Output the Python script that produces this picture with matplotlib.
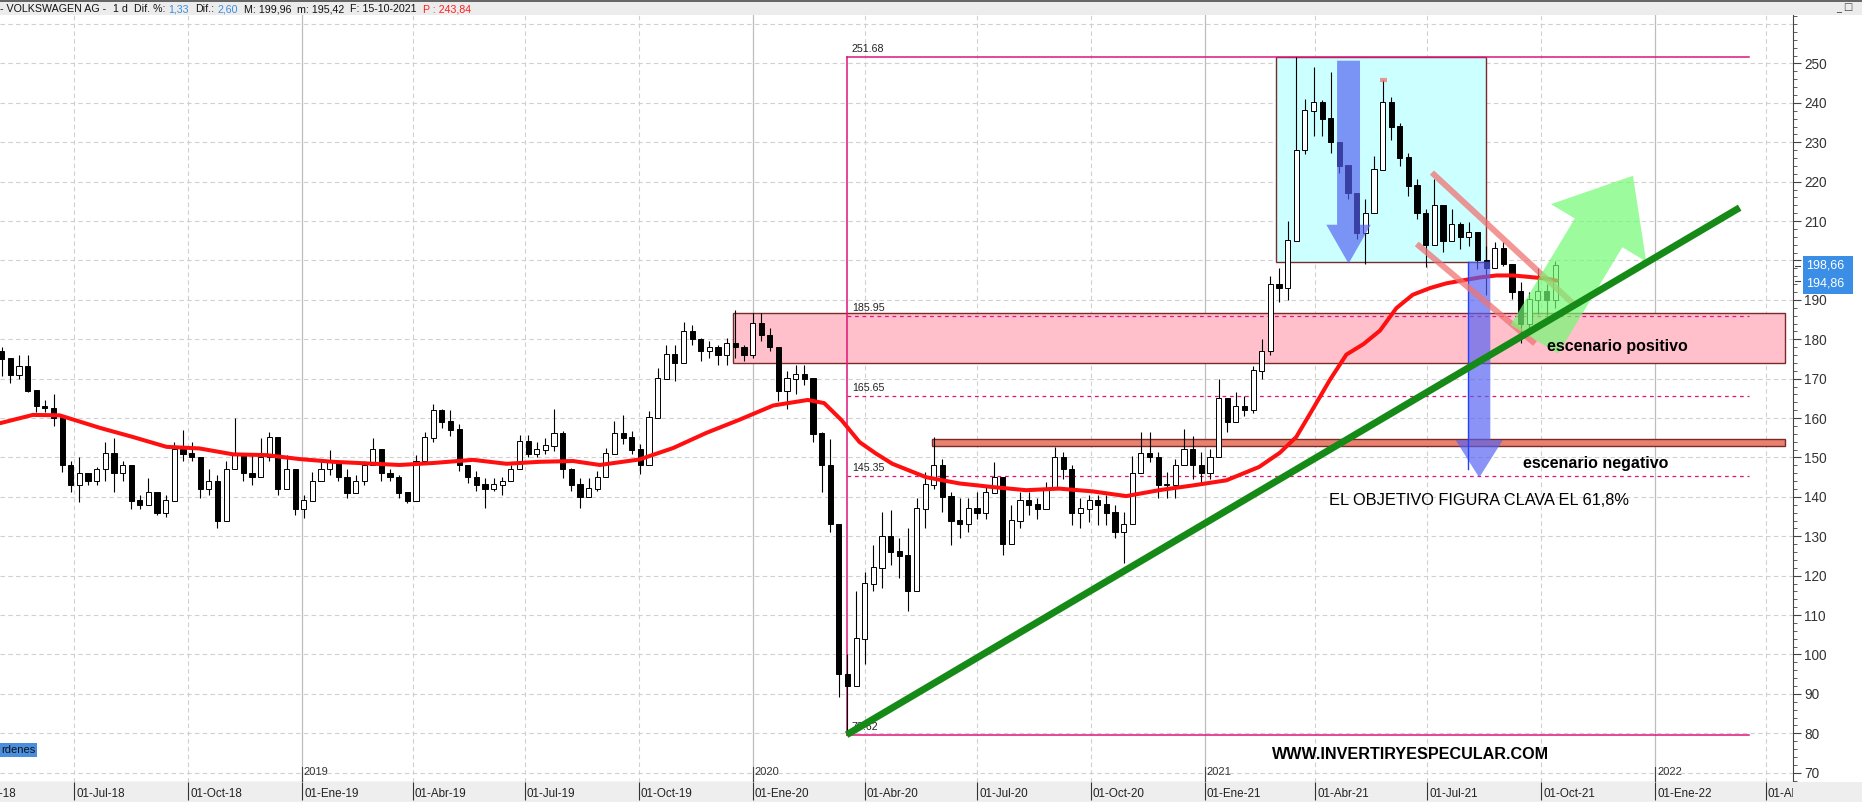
import numpy as np
import pandas as pd
import matplotlib
matplotlib.use("Agg")
import matplotlib.pyplot as plt
from matplotlib.patches import Rectangle, FancyArrowPatch, ArrowStyle

plt.rcParams['font.family'] = ['Liberation Sans', 'DejaVu Sans']

# ---- datos: velas semanales (lunes de cada semana) ----
first_week = "2018-04-30"
first_open = 177.0
week_high = [178, 173.5, 176, 176, 166, 164.5, 166, 159, 149, 150,
             145, 147.6, 154, 155, 149, 145.5, 140.5, 144.7, 139.7, 140.5,
             154, 157, 154, 149, 147.2, 145.5, 149, 160, 150.6, 150.6,
             155, 156.5, 150, 150.6, 145.5, 140.5, 146.4, 149, 151.8, 149,
             147.2, 145.5, 149, 155, 150.6, 147, 145.5, 140.5, 150.6, 156.5,
             163.6, 162.4, 162, 158.4, 148.2, 146.5, 144.9, 144.9, 145, 148.2,
             155.8, 155.8, 154, 155, 162.2, 156.7, 147.4, 144.9, 144.9, 146.5,
             152.4, 159.2, 160.9, 156.7, 153.3, 161.7, 172.7, 178.6, 178.6, 184.5,
             183.7, 180.3, 179.5, 178.6, 180.3, 187.5, 178.6, 186.6, 186.6, 182.8,
             177, 171.9, 173.5, 173.5, 166, 156.4, 154.7, 125.3, 100, 116,
             121, 127.8, 136.2, 136.6, 129.5, 132, 139.6, 146.3, 155.1, 149.7,
             141.3, 139.6, 139.6, 141.3, 142.9, 148.8, 142.1, 137.9, 141.3, 141.3,
             139.6, 143.8, 152.6, 151.3, 148, 139.6, 140.4, 140.4, 140.4, 137.9,
             136.2, 150.5, 156.4, 156.4, 151.3, 146.3, 149.7, 157.2, 155.5, 151.3,
             152.2, 169.8, 164.8, 166.5, 165.6, 173.2, 180, 196, 198, 210,
             251.68, 241, 249.2, 240.8, 247.9, 228.2, 223, 216.4, 215.5, 226.5,
             245.8, 241.6, 234.9, 227.3, 220.6, 213, 220.6, 213.9, 213, 209.7,
             209.7, 206.3, 203.8, 204.6, 204.6, 198.7, 194.6, 192, 198, 194,
             199.96]
week_low = [170.8, 169, 170, 166.5, 161.5, 161.5, 158, 146.4, 141.3, 138.8,
            143, 143, 144, 141.3, 144, 137, 137, 139.7, 135.5, 135,
            144, 149, 149, 139.7, 140.5, 132, 136.3, 150.6, 144, 143,
            148, 149, 140.5, 145.5, 135.5, 134.6, 140.5, 144, 145.5, 144,
            139.7, 141.3, 143, 150.6, 144, 144, 139.7, 138.4, 144, 150.6,
            154, 157.4, 155.5, 146.5, 143.6, 141.5, 137.3, 141.5, 140.6, 144.9,
            150.8, 150, 150, 150.8, 151.6, 144.9, 141.5, 137.3, 140.6, 141.5,
            145.7, 153.3, 153.3, 150.8, 145.7, 150.8, 161.7, 170.2, 169.3, 177.8,
            178.6, 174.4, 175.2, 173.5, 173.5, 175.2, 174.4, 175.2, 179.5, 177,
            164.3, 162.2, 166, 168.5, 154, 141.3, 131.2, 89.2, 79.62, 97.6,
            97.6, 116, 116.9, 122.8, 119.4, 111, 129.5, 132, 142.1, 136.2,
            127.8, 129.5, 131.2, 134.5, 134.5, 142.9, 125.3, 129.5, 132, 135.4,
            134.5, 139.6, 144.6, 144.6, 132.9, 132, 133.7, 132.9, 132.9, 129.5,
            123.2, 136.2, 148, 148.8, 139.6, 139.6, 139.6, 150.5, 144.6, 143,
            144.6, 151.3, 156.4, 161.4, 160.6, 161.4, 170, 176, 189.5, 190,
            205, 227, 231.5, 231.5, 227.3, 222.3, 215.5, 205.5, 199.2, 215.5,
            230.7, 230.7, 224, 216.4, 210.5, 198.3, 212.2, 202.1, 205.5, 203,
            203.8, 197.9, 191.2, 200.4, 198.7, 190.3, 179, 182, 186.5, 186.2,
            188]
week_close = [175, 171, 173, 167, 163, 162.5, 160, 148, 143, 146,
              144, 147, 151, 146, 148, 139, 138, 141, 136, 139,
              152, 151, 150, 142, 144, 134, 147, 151, 146, 145,
              150, 155, 142, 147, 137, 139, 144, 147, 149, 145,
              141, 144, 148, 152, 146, 145, 141, 139, 149, 155,
              162, 159, 157, 148, 145, 143, 142, 143, 144, 147,
              154, 151, 152, 153, 156, 147, 143, 140, 142, 145,
              151, 156, 155, 152, 148, 160, 170, 176, 174, 182,
              180, 177, 178, 176, 179, 178, 176, 184, 181, 178,
              167, 170, 171, 170, 156, 148, 133, 95, 92, 104,
              118, 122, 130, 126, 125, 116, 137, 143, 148, 140,
              134, 133, 137, 136, 141, 145, 128, 134, 139, 138,
              137, 142, 150, 147, 136, 137, 139, 138, 136, 131,
              133, 146, 151, 150, 143, 143, 148, 152, 148, 146,
              150, 165, 159, 163, 162, 172, 177, 194, 193, 205,
              228, 238, 240, 236, 230, 224, 217, 207, 212, 223,
              240, 234, 226, 219, 212, 204, 214, 205, 209, 206,
              207, 200, 198, 203, 199, 192, 184, 190, 192, 190,
              198.66]

# media movil: semana (desde 30-04-2018) y valor leido
ma_weeks = [-0.2, 3.6, 6.7, 11.4, 15.2, 19.1, 22.9, 26.8, 30.7, 34.5,
            38.4, 42.3, 46.1, 50, 54.6, 58.5, 62.3, 66.2, 69.3, 73.9,
            77.8, 81.6, 85.5, 89.4, 93.4, 95.3, 97.3, 99.4, 101.3, 103.2,
            107.1, 111, 114.8, 118.7, 122.5, 126.4, 130.3, 134.1, 138, 141.9,
            145.7, 148.1, 150, 152, 153.9, 155.8, 157.8, 159.7, 161.6, 163.5,
            165.5, 167.4, 169.7, 171.3, 173.2, 175.1, 177.1, 179, 180.2]
ma_values = [158.7, 160.8, 160.7, 157.5, 155.2, 152.7, 152.3, 150.8, 150.6, 149.6,
             148.9, 148.5, 148.1, 148.6, 149.4, 148.4, 148.9, 149.1, 148.1, 149.5,
             152.4, 156.2, 159.6, 163.2, 164.6, 163.8, 159.5, 153.9, 151, 148.4,
             145, 143.4, 142.5, 141.7, 142.1, 141.4, 140.2, 141.7, 142.9, 144.2,
             147.6, 151.2, 155.2, 162.6, 169.7, 176.1, 178.8, 182.2, 187.9, 191.3,
             193, 194.2, 195.1, 195.7, 196.2, 196.2, 195.8, 195.4, 194.86]

fib_levels = [251.68, 185.95, 165.65, 145.35, 79.62]
fib_dashed = [185.95, 165.65, 145.35]
month_es = {1: "Ene", 4: "Abr", 7: "Jul", 10: "Oct"}
quarter_dates = pd.date_range("2018-04-01", "2022-04-01", freq="QS")
price_ticks = list(range(70, 251, 10))
last_close = 198.66
last_ma = 194.86

# ---- eje x: dias habiles desde 02-07-2018 ----
ORIGIN = np.datetime64("2018-07-02")


def bday(dates):
    d = pd.DatetimeIndex(dates).values.astype("datetime64[D]")
    return np.busday_count(ORIGIN, d)


W, H = 1862, 802


def fp(x, y):
    return (x / W, 1 - y / H)


fig = plt.figure(figsize=(W / 100, H / 100), dpi=100)
fig.patch.set_facecolor("white")
ax = fig.add_axes([0, 1 - 782 / H, 1793 / W, (782 - 15) / H])
ax.set_xlim(-44.0, 994.8)
ax.set_ylim(67.64, 262.3)

week_dates = pd.date_range(first_week, periods=len(week_close), freq="7D") + pd.Timedelta(days=2)
xw = bday(week_dates)
x_week0 = xw[0]
closes = np.array(week_close)
opens = np.concatenate([[first_open], closes[:-1]])
highs = np.maximum.reduce([np.array(week_high), opens, closes])
lows = np.minimum.reduce([np.array(week_low), opens, closes])

# rejilla
ax.set_yticks(price_ticks)
# la etiqueta 200 queda tapada por el recuadro azul del ultimo valor
ax.set_yticklabels(["" if v == 200 else str(v) for v in price_ticks])
ax.set_yticks(np.arange(68, 263, 2), minor=True)
for v in range(70, 261, 10):
    ax.axhline(v, color="#d0d0d0", lw=0.8, ls=(0, (4, 3)), zorder=0)
qx = bday(quarter_dates)
for d, x in zip(quarter_dates, qx):
    if d.month == 1:
        ax.axvline(x, color="#bdbdbd", lw=0.9, zorder=0)
    else:
        ax.axvline(x, color="#d0d0d0", lw=0.8, ls=(0, (4, 3)), zorder=0)

# zonas
ax.add_patch(Rectangle((380.6, 174.0), 990.1 - 380.6, 186.6 - 174.0,
                       fc="#ffc0cb", ec="#7a2a2a", lw=1, zorder=1))
ax.add_patch(Rectangle((496, 153.0), 990 - 496, 1.6,
                       fc="#e8826e", ec="#7a2a2a", lw=1, zorder=1))
ax.add_patch(Rectangle((695, 199.7), 816.7 - 695, 251.68 - 199.7,
                       fc="#ccffff", ec="#7a2a2a", lw=1, zorder=1))

# fibonacci
fib_x0, fib_x1 = 446.5, 969.3
mag = "#e0147a"
ax.plot([fib_x0, fib_x0], [fib_levels[-1], fib_levels[0]], color=mag, lw=1.1, zorder=2)
ax.plot([fib_x0, fib_x1], [fib_levels[0]] * 2, color=mag, lw=1.1, zorder=2)
ax.plot([fib_x0, fib_x1], [fib_levels[-1]] * 2, color=mag, lw=1.1, zorder=2)
for lv in fib_dashed:
    ax.plot([fib_x0, fib_x1], [lv, lv], color=mag, lw=0.9, ls=(0, (3, 3)), zorder=2)
for lv in fib_levels:
    ax.text(fib_x0 + 3, lv + 0.6, f"{lv:.2f}", fontsize=7.7, color="#222",
            va="bottom", ha="left", zorder=3)

# velas
up = closes >= opens
ax.vlines(xw, lows, highs, color="black", lw=0.8, zorder=4)
ax.bar(xw, np.abs(closes - opens) + 0.15, bottom=np.minimum(opens, closes), width=3.0,
       color=np.where(up, "white", "black"), edgecolor="black", lw=0.7, zorder=4)

# media movil
ax.plot(x_week0 + 5 * np.array(ma_weeks), ma_values, color="#ff1010", lw=2.9, zorder=5,
        solid_capstyle="round", solid_joinstyle="round")

# flechas azules
blue = (0.33, 0.38, 0.95, 0.68)
ax.add_patch(FancyArrowPatch((737.3, 250.7), (737.3, 199.2), mutation_scale=1,
                             arrowstyle=ArrowStyle.Simple(head_length=28, head_width=32, tail_width=16.5),
                             fc=blue, ec="none", shrinkA=0, shrinkB=0, zorder=6))
ax.add_patch(FancyArrowPatch((813, 199.7), (813, 144.9), mutation_scale=1,
                             arrowstyle=ArrowStyle.Simple(head_length=27, head_width=34, tail_width=16),
                             fc=blue, ec="none", shrinkA=0, shrinkB=0, zorder=6))
ax.plot([806.3, 806.3], [147, 199.7], color="#2040ff", lw=1, zorder=6)

# canal bajista
chan = (0.94, 0.45, 0.45, 0.75)
ax.plot([785.6, 868.5], [222.3, 188.6], color=chan, lw=4.3, solid_capstyle="butt", zorder=6)
ax.plot([776.8, 845.3], [204.2, 178.9], color=chan, lw=4.3, solid_capstyle="butt", zorder=6)
ax.plot([755.5, 759.6], [245.8, 245.8], color=chan, lw=3, solid_capstyle="butt", zorder=6)

# flecha verde
ax.add_patch(FancyArrowPatch((845.0, 180.0), (902.1, 221.5), mutation_scale=1,
                             arrowstyle=ArrowStyle.Simple(head_length=48, head_width=80, tail_width=40),
                             fc=(0.45, 0.98, 0.45, 0.7), ec="none", shrinkA=0, shrinkB=0, zorder=7))

# linea de tendencia
ax.plot([446.5, 963.9], [79.62, 213.4], color="#168a16", lw=5, solid_capstyle="butt", zorder=7)

# textos
ax.text(852.3, 178.1, "escenario positivo", fontsize=11.5, fontweight="bold", va="center", zorder=8)
ax.text(838.2, 148.6, "escenario negativo", fontsize=11.5, fontweight="bold", va="center", zorder=8)
ax.text(726, 139.2, "EL OBJETIVO FIGURA CLAVA EL 61,8%", fontsize=11.8, va="center", zorder=8)
ax.text(693, 74.5, "WWW.INVERTIRYESPECULAR.COM", fontsize=11.6, fontweight="bold", va="center", zorder=8)

# anos
for d, x in zip(quarter_dates, qx):
    if d.month == 1:
        ax.plot([x, x], [67.64, 71.4], color="#444", lw=0.8, zorder=3, clip_on=False)
        ax.text(x + 1, 70.2, str(d.year), fontsize=8, color="#333", va="center", zorder=3)

# eje derecho
ax.yaxis.tick_right()
ax.tick_params(axis="y", which="major", direction="out", length=6, color="#444",
               labelsize=9.8, labelcolor="#333", pad=2)
ax.tick_params(axis="y", which="minor", direction="out", length=3, color="#444")
ax.set_xticks([])
for s in ["top", "left"]:
    ax.spines[s].set_visible(False)
ax.spines["right"].set_color("#444")
ax.spines["bottom"].set_color("#444")

# franja de fechas
axb = fig.add_axes([0, 0, 1793 / W, 20 / H])
axb.set_xlim(ax.get_xlim())
axb.set_ylim(0, 1)
axb.set_facecolor("#eeeeee")
axb.set_xticks([])
axb.set_yticks([])
for s in axb.spines.values():
    s.set_visible(False)
for d, x in zip(quarter_dates, qx):
    lab = f"01-{month_es[d.month]}-{d.strftime('%y')}"
    axb.vlines(x, 0.1, 1.0, color="#333", lw=0.8)
    axb.text(x + 1.2, 0.42, lab, fontsize=8.4, color="#222", va="center", ha="left", clip_on=True)

# cabecera
fig.add_artist(Rectangle(fp(0, 15), 1, 15 / H, transform=fig.transFigure,
                         fc="#ececec", ec="none"))
fig.add_artist(Rectangle(fp(0, 1.5), 1, 1.5 / H, transform=fig.transFigure,
                         fc="#666", ec="none"))
header = [("- VOLKSWAGEN AG -", "#111", 7), ("1 d", "#111", 6), ("Dif. %:", "#111", 3),
          ("1,33", "#3b8ee0", 6), ("Dif.:", "#111", 3), ("2,60", "#3b8ee0", 6),
          ("M: 199,96", "#111", 6), ("m: 195,42", "#111", 6),
          ("F: 15-10-2021", "#111", 6), ("P : 243,84", "#ff2020", 0)]
renderer = fig.canvas.get_renderer()
hx = 0
for txt, col, gap in header:
    t = fig.text(*fp(hx, 9), txt, fontsize=7.7, color=col, va="center", ha="left")
    hx = t.get_window_extent(renderer).x1 + gap
fig.text(*fp(1836, 8), "_ \u25a1 ", fontsize=7, color="#444", va="center", family="DejaVu Sans")

# esquina inferior derecha
fig.add_artist(Rectangle(fp(1793, 802), 69 / W, 20 / H, transform=fig.transFigure,
                         fc="#eeeeee", ec="none"))

# etiquetas de ultimo valor
fig.add_artist(Rectangle(fp(1803, 294), 50 / W, 38 / H, transform=fig.transFigure,
                         fc="#3a8ee6", ec="none"))
fig.text(*fp(1806, 265), f"{last_close:.2f}".replace(".", ","), fontsize=9, color="white", va="center")
fig.text(*fp(1806, 284), f"{last_ma:.2f}".replace(".", ","), fontsize=9, color="white", va="center")
for yv in (last_close, last_ma):
    ax.plot([1.001, 1.004], [yv, yv], color="#444", lw=0.8,
            transform=ax.get_yaxis_transform(), clip_on=False)

# boton ordenes
fig.text(*fp(1, 750), "rdenes", fontsize=8, color="#111", va="center",
         bbox=dict(boxstyle="square,pad=0.2", fc="#4a8fdf", ec="none"))

fig.savefig("out.png", dpi=100)
